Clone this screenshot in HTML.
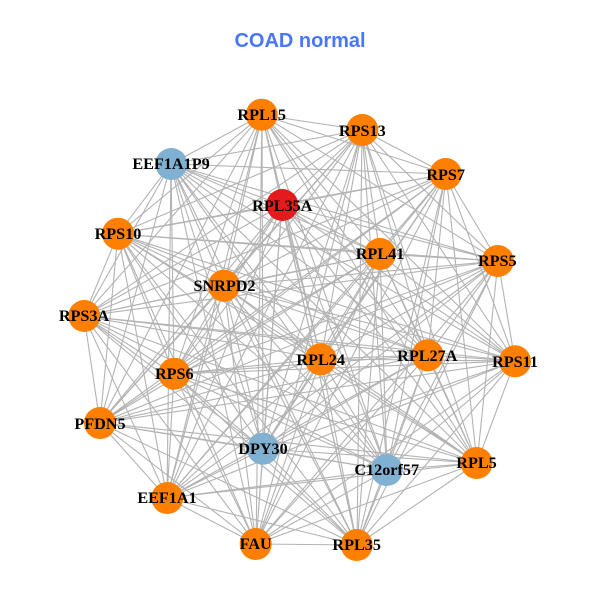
<!DOCTYPE html>
<html><head><meta charset="utf-8"><style>
html,body{margin:0;padding:0;background:#fff}
svg{display:block}
.l{font:bold 16.2px "Liberation Serif",serif;fill:#000;text-anchor:middle}
</style></head><body>
<svg width="600" height="600" viewBox="0 0 600 600" xmlns="http://www.w3.org/2000/svg">
<rect width="600" height="600" fill="#fff"/>
<text x="300" y="47" text-anchor="middle" style="font:bold 20px 'Liberation Sans',sans-serif" fill="#4876FF">COAD normal</text>
<g fill="none" stroke="#b3b3b3" stroke-width="1.1">
<path d="M262 115L362 130M262 115L446 174M262 115L498 261M262 115L515 361M262 115L477 463M262 115L357 545M262 115L256 544M262 115L167 498M262 115L100 423M262 115L84 316M262 115L118 234M262 115L171 164M262 115L282 205M262 115L380 254M262 115L224 286M262 115L321 359M262 115L428 355M262 115L174 374M262 115L263 449M262 115L387 470"/>
<path d="M362 130L446 174M362 130L498 261M362 130L515 361M362 130L477 463M362 130L357 545M362 130L256 544M362 130L167 498M362 130L100 423M362 130L84 316M362 130L118 234M362 130L171 164M362 130L282 205M362 130L380 254M362 130L224 286M362 130L321 359M362 130L428 355M362 130L174 374M362 130L263 449M362 130L387 470"/>
<path d="M446 174L498 261M446 174L515 361M446 174L477 463M446 174L357 545M446 174L256 544M446 174L167 498M446 174L100 423M446 174L84 316M446 174L118 234M446 174L171 164M446 174L282 205M446 174L380 254M446 174L224 286M446 174L321 359M446 174L428 355M446 174L174 374M446 174L263 449M446 174L387 470"/>
<path d="M498 261L515 361M498 261L477 463M498 261L357 545M498 261L256 544M498 261L167 498M498 261L100 423M498 261L84 316M498 261L118 234M498 261L171 164M498 261L282 205M498 261L380 254M498 261L224 286M498 261L321 359M498 261L428 355M498 261L174 374M498 261L263 449M498 261L387 470"/>
<path d="M515 361L477 463M515 361L357 545M515 361L256 544M515 361L167 498M515 361L100 423M515 361L84 316M515 361L118 234M515 361L171 164M515 361L282 205M515 361L380 254M515 361L224 286M515 361L321 359M515 361L428 355M515 361L174 374M515 361L263 449M515 361L387 470"/>
<path d="M477 463L357 545M477 463L256 544M477 463L167 498M477 463L100 423M477 463L84 316M477 463L118 234M477 463L171 164M477 463L282 205M477 463L380 254M477 463L224 286M477 463L321 359M477 463L428 355M477 463L174 374M477 463L263 449M477 463L387 470"/>
<path d="M357 545L256 544M357 545L167 498M357 545L100 423M357 545L84 316M357 545L118 234M357 545L171 164M357 545L282 205M357 545L380 254M357 545L224 286M357 545L321 359M357 545L428 355M357 545L174 374M357 545L263 449M357 545L387 470"/>
<path d="M256 544L167 498M256 544L100 423M256 544L84 316M256 544L118 234M256 544L171 164M256 544L282 205M256 544L380 254M256 544L224 286M256 544L321 359M256 544L428 355M256 544L174 374M256 544L263 449M256 544L387 470"/>
<path d="M167 498L100 423M167 498L84 316M167 498L118 234M167 498L171 164M167 498L282 205M167 498L380 254M167 498L224 286M167 498L321 359M167 498L428 355M167 498L174 374M167 498L263 449M167 498L387 470"/>
<path d="M100 423L84 316M100 423L118 234M100 423L171 164M100 423L282 205M100 423L380 254M100 423L224 286M100 423L321 359M100 423L428 355M100 423L174 374M100 423L263 449M100 423L387 470"/>
<path d="M84 316L118 234M84 316L171 164M84 316L282 205M84 316L380 254M84 316L224 286M84 316L321 359M84 316L428 355M84 316L174 374M84 316L263 449M84 316L387 470"/>
<path d="M118 234L171 164M118 234L282 205M118 234L380 254M118 234L224 286M118 234L321 359M118 234L428 355M118 234L174 374M118 234L263 449M118 234L387 470"/>
<path d="M171 164L282 205M171 164L380 254M171 164L224 286M171 164L321 359M171 164L428 355M171 164L174 374M171 164L263 449M171 164L387 470"/>
<path d="M282 205L380 254M282 205L224 286M282 205L321 359M282 205L428 355M282 205L174 374M282 205L263 449M282 205L387 470"/>
<path d="M380 254L224 286M380 254L321 359M380 254L428 355M380 254L174 374M380 254L263 449M380 254L387 470"/>
<path d="M224 286L321 359M224 286L428 355M224 286L174 374M224 286L263 449M224 286L387 470"/>
<path d="M321 359L428 355M321 359L174 374M321 359L263 449M321 359L387 470"/>
<path d="M428 355L174 374M428 355L263 449M428 355L387 470"/>
<path d="M174 374L263 449M174 374L387 470"/>
<path d="M263 449L387 470"/>
</g>
<g fill="#FF7F00">
<circle cx="261.7" cy="114.7" r="16"/>
<circle cx="362.3" cy="130" r="16"/>
<circle cx="445.7" cy="174" r="16"/>
<circle cx="497.8" cy="261" r="16"/>
<circle cx="515" cy="361.3" r="16"/>
<circle cx="476.6" cy="463" r="16"/>
<circle cx="356.7" cy="545" r="16"/>
<circle cx="255.7" cy="544" r="16"/>
<circle cx="167.3" cy="498" r="16"/>
<circle cx="100" cy="423" r="16"/>
<circle cx="84.3" cy="316" r="16"/>
<circle cx="118" cy="233.7" r="16"/>
<circle cx="380" cy="254" r="16"/>
<circle cx="224" cy="285.7" r="16"/>
<circle cx="320.7" cy="359.3" r="16"/>
<circle cx="427.7" cy="355.3" r="16"/>
<circle cx="174.3" cy="373.7" r="16"/>
</g>
<circle cx="282.3" cy="205" r="16" fill="#E41A1C"/>
<g fill="#80B1D3">
<circle cx="171.3" cy="164" r="16"/>
<circle cx="263" cy="448.7" r="16"/>
<circle cx="386.7" cy="470" r="16"/>
</g>
<text class="l" x="261.7" y="120">RPL15</text>
<text class="l" x="362.3" y="136">RPS13</text>
<text class="l" x="445.7" y="180">RPS7</text>
<text class="l" x="497.3" y="266">RPS5</text>
<text class="l" x="515" y="367">RPS11</text>
<text class="l" x="476.5" y="468">RPL5</text>
<text class="l" x="356.7" y="550">RPL35</text>
<text class="l" x="255.7" y="549">FAU</text>
<text class="l" x="167" y="503">EEF1A1</text>
<text class="l" x="100" y="429">PFDN5</text>
<text class="l" x="84" y="321">RPS3A</text>
<text class="l" x="118" y="239">RPS10</text>
<text class="l" x="171" y="169">EEF1A1P9</text>
<text class="l" x="282.3" y="211">RPL35A</text>
<text class="l" x="380" y="259">RPL41</text>
<text class="l" x="224.5" y="291">SNRPD2</text>
<text class="l" x="320.7" y="365">RPL24</text>
<text class="l" x="427.3" y="361">RPL27A</text>
<text class="l" x="174.3" y="379">RPS6</text>
<text class="l" x="263" y="454">DPY30</text>
<text class="l" x="386.7" y="475">C12orf57</text>
</svg>
</body></html>
